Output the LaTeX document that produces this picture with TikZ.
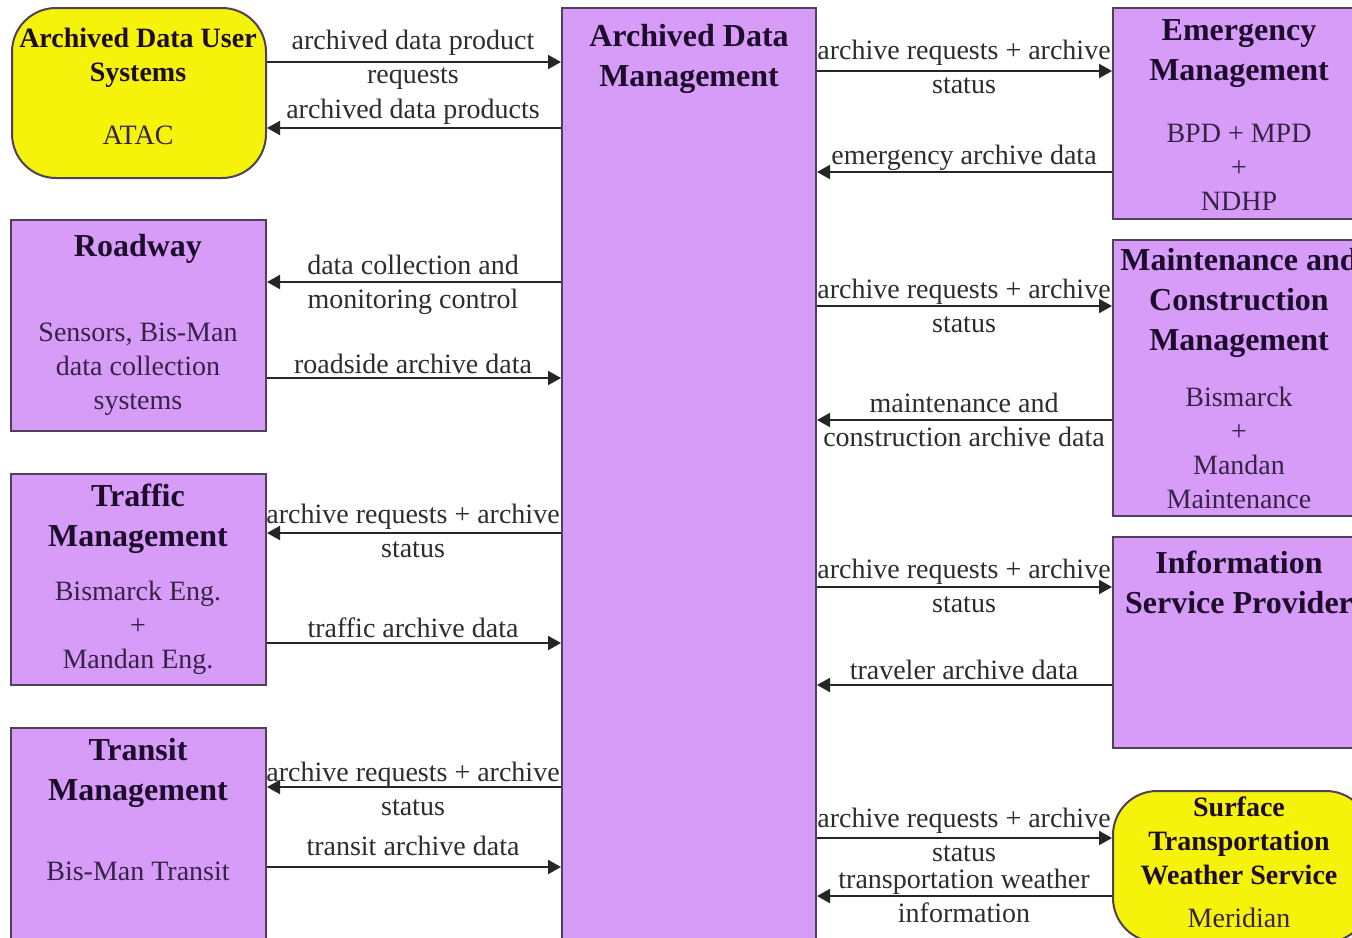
\documentclass[tikz,border=0pt]{standalone}
\usepackage{fontspec}
\setmainfont{Liberation Serif}
\usetikzlibrary{arrows.meta,fit}
\definecolor{purp}{RGB}{214,156,248}
\definecolor{yel}{RGB}{245,243,10}
\definecolor{edgec}{RGB}{80,64,90}
\definecolor{ttl}{RGB}{30,12,45}
\definecolor{subc}{RGB}{55,35,70}
\definecolor{lbl}{RGB}{45,45,45}
\begin{document}
\begin{tikzpicture}[x=0.5pt,y=-0.5pt,
 pbox/.style={draw=edgec,line width=1pt,fill=purp,inner sep=0pt},
 ybox/.style={draw=edgec,line width=1pt,fill=yel,inner sep=0pt,rounded corners=22pt},
 ttlP/.style={font=\fontsize{16}{20}\selectfont\bfseries,text=ttl,align=center,inner sep=0pt,yshift=-2pt},
 ttlY/.style={font=\fontsize{14}{17}\selectfont\bfseries,text=ttl,align=center,inner sep=0pt,yshift=-1.5pt},
 subt/.style={font=\fontsize{14}{17}\selectfont,text=subc,align=center,inner sep=0pt,yshift=-1pt},
 lab/.style={font=\fontsize{14}{17}\selectfont,text=lbl,align=center,inner sep=0pt,yshift=-1.5pt},
 arr/.style={draw=black!85,line width=1pt,-{Triangle[length=6.5pt,width=7pt]}}]
\useasboundingbox (0,0) rectangle (1352,937);
\clip (0,0) rectangle (1352,937);
\fill[white] (0,0) rectangle (1352,937);

% boxes
\node[ybox,fit={(12,8) (266,178)}] (adus) {};
\node[pbox,fit={(562,8) (816,960)}] (adm) {};
\node[pbox,fit={(11,220) (266,431)}] (road) {};
\node[pbox,fit={(11,474) (266,685)}] (traf) {};
\node[pbox,fit={(11,728) (266,960)}] (tran) {};
\node[pbox,fit={(1113,8) (1366,219)}] (em) {};
\node[pbox,fit={(1113,240) (1366,516)}] (mcm) {};
\node[pbox,fit={(1113,537) (1366,748)}] (isp) {};
\node[ybox,fit={(1113,791) (1370,942)}] (stws) {};

% box texts
\node[ttlY] (adusT) at (138,55) {Archived Data User\\Systems};
\node[subt] (adusS) at (138,133) {ATAC};
\node[ttlP] (admT) at (689,55) {Archived Data\\Management};
\node[ttlP] (emT) at (1239,50) {Emergency\\Management};
\node[subt] (emS) at (1239,165) {BPD + MPD\\+\\NDHP};
\node[ttlP] (mcmT) at (1239,299) {Maintenance and\\Construction\\Management};
\node[subt] (mcmS) at (1239,446) {Bismarck\\+\\Mandan\\Maintenance};
\node[ttlP] (ispT) at (1239,578) {Information\\Service Provider};
\node[ttlY] (stwsT) at (1239,838) {Surface\\Transportation\\Weather Service};
\node[subt] (stwsS) at (1239,916) {Meridian};
\node[ttlP] (roadT) at (138,245) {Roadway};
\node[subt] (roadS) at (138,367) {Sensors, Bis-Man\\data collection\\systems};
\node[ttlP] (trafT) at (138,515) {Traffic\\Management};
\node[subt] (trafS) at (138,626) {Bismarck Eng.\\+\\Mandan Eng.};
\node[ttlP] (tranT) at (138,769) {Transit\\Management};
\node[subt] (tranS) at (138,869) {Bis-Man Transit};

% left connectors
\draw[arr] (adus.east |- 0,62) -- (adm.west |- 0,62);
\node[lab] (l1) at (413,57) {archived data product\\requests};
\draw[arr] (adm.west |- 0,128) -- (adus.east |- 0,128);
\node[lab] (l2) at (413,109) {archived data products};
\draw[arr] (adm.west |- 0,282) -- (road.east |- 0,282);
\node[lab] (l3) at (413,282) {data collection and\\monitoring control};
\draw[arr] (road.east |- 0,378) -- (adm.west |- 0,378);
\node[lab] (l4) at (413,361) {roadside archive data};
\draw[arr] (adm.west |- 0,533) -- (traf.east |- 0,533);
\node[lab] (l5) at (413,528) {archive requests + archive\\status};
\draw[arr] (traf.east |- 0,643) -- (adm.west |- 0,643);
\node[lab] (l6) at (413,625) {traffic archive data};
\draw[arr] (adm.west |- 0,787) -- (tran.east |- 0,787);
\node[lab] (l7) at (413,786) {archive requests + archive\\status};
\draw[arr] (tran.east |- 0,867) -- (adm.west |- 0,867);
\node[lab] (l8) at (413,843) {transit archive data};

% right connectors
\draw[arr] (adm.east |- 0,71) -- (em.west |- 0,71);
\node[lab] (r1) at (964,64) {archive requests + archive\\status};
\draw[arr] (em.west |- 0,172) -- (adm.east |- 0,172);
\node[lab] (r2) at (964,155) {emergency archive data};
\draw[arr] (adm.east |- 0,306) -- (mcm.west |- 0,306);
\node[lab] (r3) at (964,303) {archive requests + archive\\status};
\draw[arr] (mcm.west |- 0,420) -- (adm.east |- 0,420);
\node[lab] (r4) at (964,417) {maintenance and\\construction archive data};
\draw[arr] (adm.east |- 0,587) -- (isp.west |- 0,587);
\node[lab] (r5) at (964,583) {archive requests + archive\\status};
\draw[arr] (isp.west |- 0,685) -- (adm.east |- 0,685);
\node[lab] (r6) at (964,667) {traveler archive data};
\draw[arr] (adm.east |- 0,838) -- (stws.west |- 0,838);
\node[lab] (r7) at (964,832) {archive requests + archive\\status};
\draw[arr] (stws.west |- 0,896) -- (adm.east |- 0,896);
\node[lab] (r8) at (964,893) {transportation weather\\information};
\end{tikzpicture}
\end{document}
